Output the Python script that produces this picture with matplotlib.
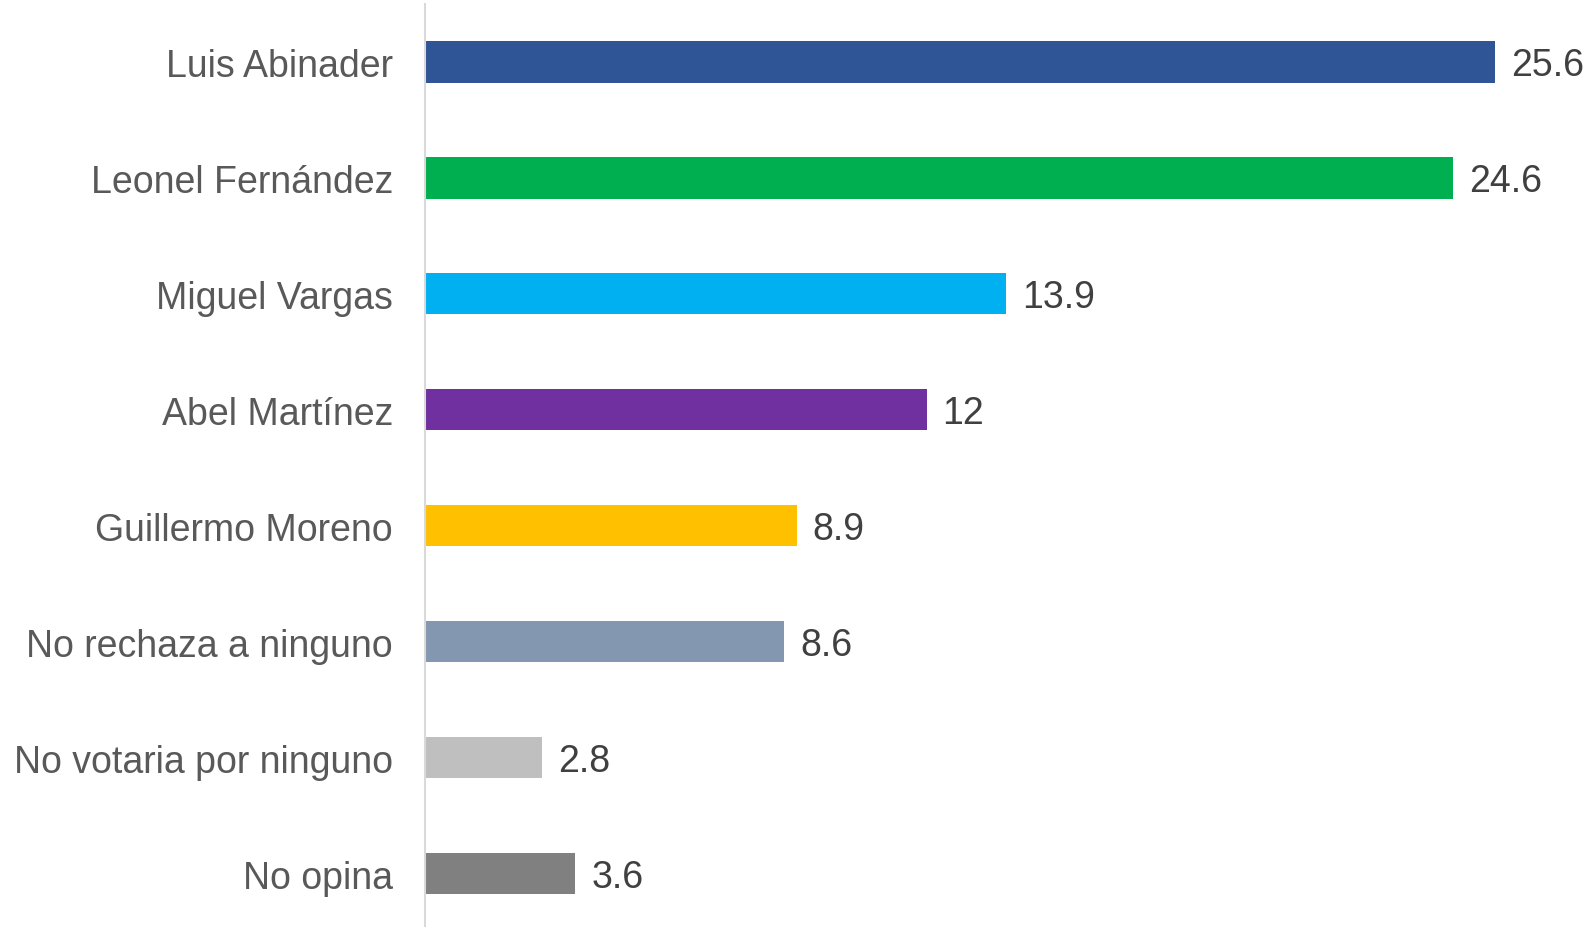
import matplotlib.pyplot as plt

plt.rcParams['font.family'] = ['Liberation Sans', 'DejaVu Sans']

categories = ['Luis Abinader', 'Leonel Fernández', 'Miguel Vargas', 'Abel Martínez',
              'Guillermo Moreno', 'No rechaza a ninguno', 'No votaria por ninguno', 'No opina']
values = [25.6, 24.6, 13.9, 12, 8.9, 8.6, 2.8, 3.6]
labels = ['25.6', '24.6', '13.9', '12', '8.9', '8.6', '2.8', '3.6']
colors = ['#2F5597', '#00B050', '#00B0F0', '#7030A0', '#FFC000', '#8497B0', '#BFBFBF', '#808080']

fig = plt.figure(figsize=(15.94, 9.28), dpi=100)
ax = fig.add_axes([425 / 1594, 0, 1 - 425 / 1594, 1 - 5 / 928])

pos = list(range(len(categories)))
bars = ax.barh(pos, values, height=0.355, color=colors)
ax.set_ylim(7.46, -0.5)
ax.set_xlim(0, 27.97)

for b, lab in zip(bars, labels):
    ax.text(b.get_width() + 0.38, b.get_y() + b.get_height() / 2 + 0.025, lab,
            va='center', ha='left', fontsize=27, color='#404040')

ax.set_yticks(pos)
ax.set_yticklabels(categories, fontsize=27, color='#595959')
ax.tick_params(axis='y', length=0, pad=23)
ax.set_xticks([])
for s in ['top', 'right', 'bottom']:
    ax.spines[s].set_visible(False)
ax.spines['left'].set_color('#D9D9D9')
ax.spines['left'].set_linewidth(1.5)

fig.savefig('out.png', dpi=100)
